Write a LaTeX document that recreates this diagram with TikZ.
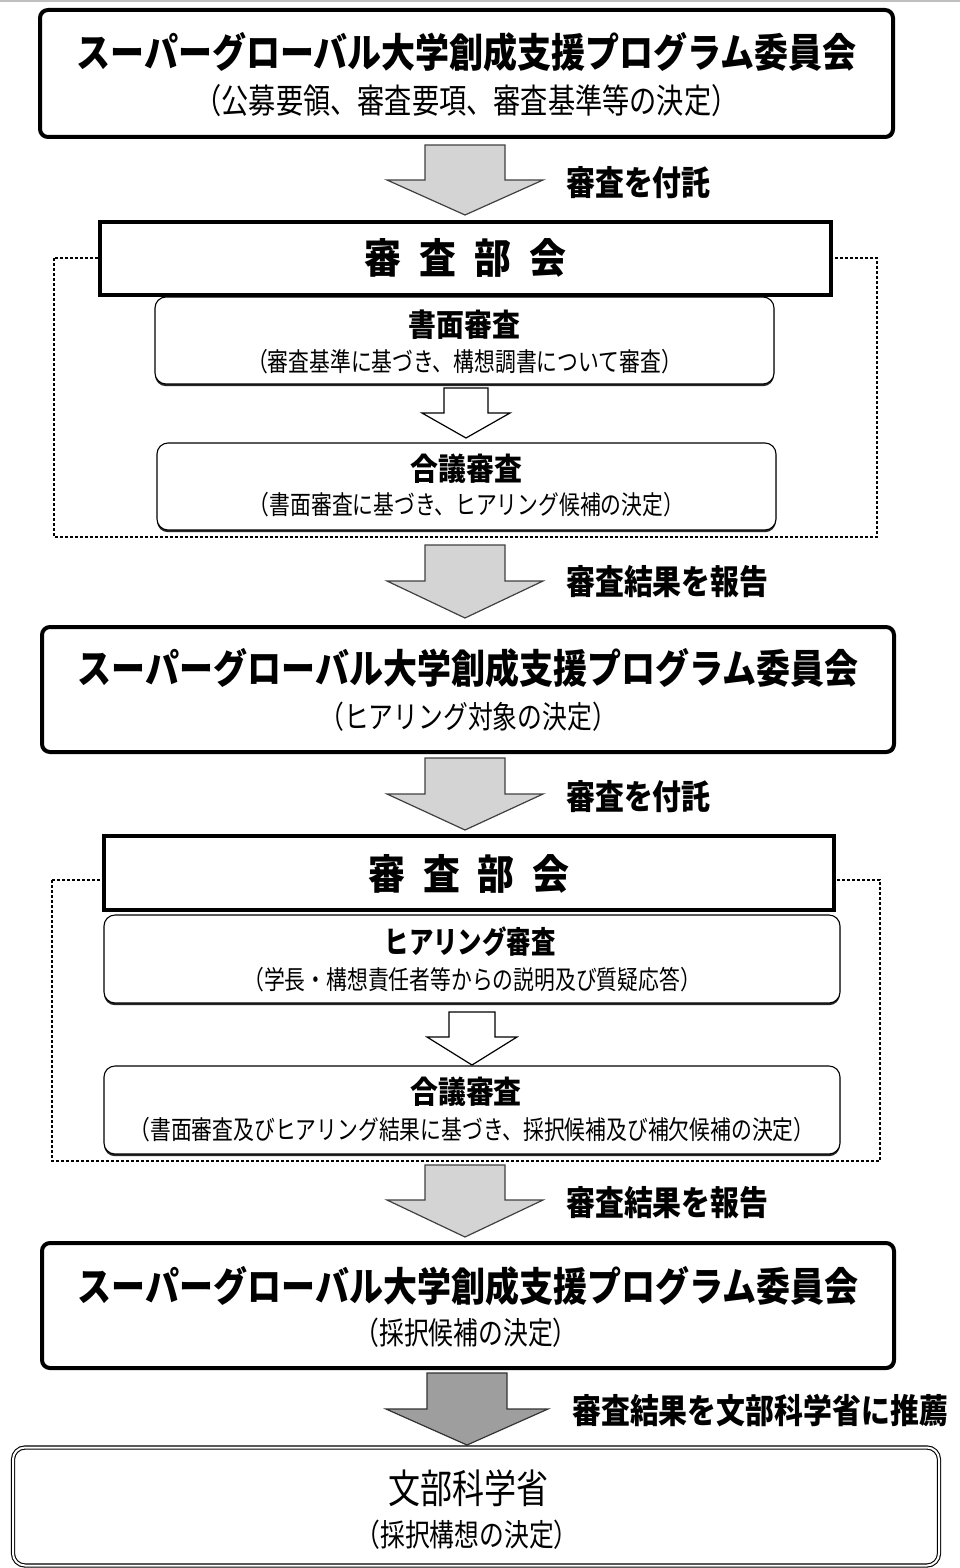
\documentclass[tikz,border=0pt]{standalone}
\usepackage{fontspec}
\newfontfamily\jp[FakeStretch=0.9]{Noto Sans CJK JP}
\newfontfamily\jpc[FakeStretch=0.85]{Noto Sans CJK JP}
\newfontfamily\jpn[FakeStretch=0.8]{Noto Sans CJK JP}
\usetikzlibrary{shadows}
\newcommand\fTitle{\jpc\bfseries\fontsize{40pt}{42pt}\selectfont}
\newcommand\fSub{\jpn\fontsize{34pt}{36pt}\selectfont}
\newcommand\fSubB{\jpn\fontsize{31pt}{33pt}\selectfont}
\newcommand\fBukai{\jp\bfseries\fontsize{41pt}{43pt}\selectfont}
\newcommand\fHead{\jp\bfseries\fontsize{31pt}{33pt}\selectfont}
\newcommand\fHeadK{\jpn\bfseries\fontsize{30.5pt}{33pt}\selectfont}
\newcommand\fSmall{\jpn\fontsize{26pt}{28pt}\selectfont}
\newcommand\fLabel{\jpc\bfseries\fontsize{34pt}{36pt}\selectfont}
\newcommand\blockarrow[7]{%
  \draw[#1] (#2-#3,#5) -- (#2+#3,#5) -- (#2+#3,#6) -- (#2+#4,#6) -- (#2,#7)
    -- (#2-#4,#6) -- (#2-#3,#6) -- cycle;}
\tikzset{
  bigbox/.style={draw, line width=4pt, rounded corners=8pt, fill=white,
    drop shadow={shadow xshift=1.5pt, shadow yshift=-1.5pt, fill=black!85, opacity=1}},
  bukaibox/.style={draw, line width=4pt, fill=white},
  stepbox/.style={draw, line width=1.1pt, rounded corners=11pt, fill=white,
    drop shadow={shadow xshift=0pt, shadow yshift=-2.2pt, fill=black!85, opacity=1}},
  dashbox/.style={draw, line width=1.1pt, dash pattern=on 3pt off 2pt},
  finalbox/.style={draw, double, double distance=2pt, line width=1.1pt, rounded corners=12pt, fill=white},
  grayarrow/.style={fill=black!17, draw=black!75, line width=1.2pt, line join=miter},
  darkarrow/.style={fill=black!38, draw=black!80, line width=1.2pt, line join=miter},
  whitearrow/.style={fill=white, draw=black, line width=1.2pt, line join=miter},
  lbl/.style={anchor=west, font=\fLabel, inner sep=0pt},
  txt/.style={inner sep=0pt}
}
\begin{document}
\begin{tikzpicture}[x=1pt, y=-1pt]
\useasboundingbox (0,0) rectangle (960,1568);
\fill[black!25] (0,0) rectangle (960,2.5);

% ---------- committee 1
\node[bigbox, minimum width=853pt, minimum height=127pt] (c1) at (466.5,73.5) {};
\node[txt, font=\fTitle] (c1t) at (466.5,52) {スーパーグローバル大学創成支援プログラム委員会};
\node[txt, font=\fSub] (c1s) at (466.5,101) {（公募要領、審査要項、審査基準等の決定）};

\blockarrow{grayarrow}{465}{40}{78}{145}{180}{215}
\node[lbl] (l1) at (566,183) {審査を付託};

% ---------- bukai 1
\draw[dashbox] (54,258) rectangle (877,537);
\node[bukaibox, minimum width=731pt, minimum height=73pt] (b1) at (465.5,258.5) {};
\node[txt, font=\fBukai] (b1t) at (465.5,258) {審\hspace{18pt}査\hspace{18pt}部\hspace{18pt}会};

\node[stepbox, minimum width=619pt, minimum height=87pt] (r1) at (464.5,340.5) {};
\node[txt, font=\fHead] (r1t) at (464.5,325) {書面審査};
\node[txt, font=\fSmall] (r1s) at (464.5,362) {（審査基準に基づき、構想調書について審査）};

\blockarrow{whitearrow}{466}{22}{44}{388}{413}{438}

\node[stepbox, minimum width=619pt, minimum height=87pt] (r2) at (466.5,486.5) {};
\node[txt, font=\fHead] (r2t) at (466.5,469) {合議審査};
\node[txt, font=\fSmall] (r2s) at (466.5,505) {（書面審査に基づき、ヒアリング候補の決定）};

\blockarrow{grayarrow}{465}{40}{78}{545}{581}{618}
\node[lbl] (l2) at (566,582) {審査結果を報告};

% ---------- committee 2
\node[bigbox, minimum width=852pt, minimum height=125pt] (c2) at (468,689.5) {};
\node[txt, font=\fTitle] (c2t) at (468,668) {スーパーグローバル大学創成支援プログラム委員会};
\node[txt, font=\fSubB] (c2s) at (468,717) {（ヒアリング対象の決定）};

\blockarrow{grayarrow}{465}{40}{78}{758}{794}{830}
\node[lbl] (l3) at (566,797) {審査を付託};

% ---------- bukai 2
\draw[dashbox] (52,880) rectangle (880,1161);
\node[bukaibox, minimum width=730pt, minimum height=74pt] (b2) at (469,873) {};
\node[txt, font=\fBukai] (b2t) at (469,874) {審\hspace{18pt}査\hspace{18pt}部\hspace{18pt}会};

\node[stepbox, minimum width=736pt, minimum height=88pt] (r3) at (472,959) {};
\node[txt, font=\fHeadK] (r3t) at (470,942) {ヒアリング審査};
\node[txt, font=\fSmall] (r3s) at (472,980) {（学長・構想責任者等からの説明及び質疑応答）};

\blockarrow{whitearrow}{472}{23}{45}{1012}{1037}{1065}

\node[stepbox, minimum width=736pt, minimum height=88pt] (r4) at (472,1110) {};
\node[txt, font=\fHead] (r4t) at (466,1092) {合議審査};
\node[txt, font=\fSmall] (r4s) at (472,1130) {（書面審査及びヒアリング結果に基づき、採択候補及び補欠候補の決定）};

\blockarrow{grayarrow}{465}{40}{78}{1165}{1200}{1237}
\node[lbl] (l4) at (566,1203) {審査結果を報告};

% ---------- committee 3
\node[bigbox, minimum width=852pt, minimum height=125pt] (c3) at (468,1305.5) {};
\node[txt, font=\fTitle] (c3t) at (468,1286) {スーパーグローバル大学創成支援プログラム委員会};
\node[txt, font=\fSubB] (c3s) at (466,1333) {（採択候補の決定）};

\blockarrow{darkarrow}{467}{40}{81}{1373}{1409}{1445}
\node[lbl] (l5) at (572,1411) {審査結果を文部科学省に推薦};

% ---------- ministry
\node[finalbox, minimum width=926pt, minimum height=118pt] (c4) at (476,1506.5) {};
\node[txt, font=\jpn\fontsize{40pt}{42pt}\selectfont] (c4t) at (468,1488) {文部科学省};
\node[txt, font=\jpn\fontsize{31pt}{33pt}\selectfont] (c4s) at (467,1535) {（採択構想の決定）};
\end{tikzpicture}
\end{document}
